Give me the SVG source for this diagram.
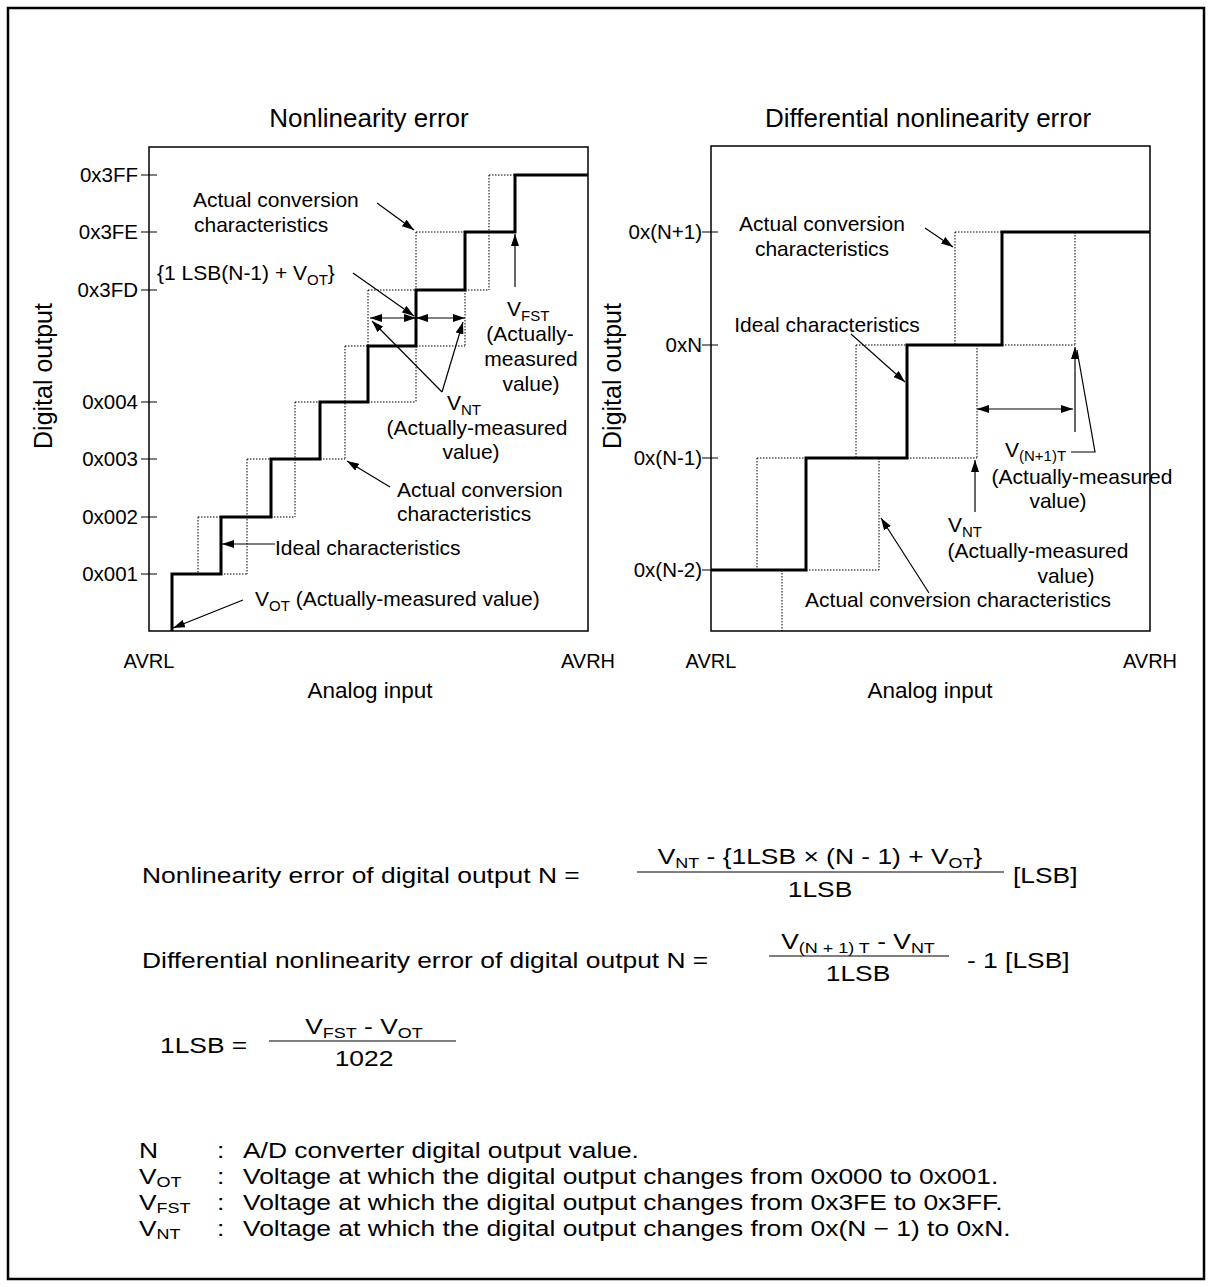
<svg xmlns="http://www.w3.org/2000/svg" width="1212" height="1287" viewBox="0 0 1212 1287">
<style>
text{font-family:"Liberation Sans",Arial,sans-serif;fill:#000}
.lb{font-size:21px}
.tk{font-size:20.5px}
.av{font-size:20px}
.ti{font-size:26px}
.ax{font-size:22.5px}
.ay{font-size:25px}
.fm{font-size:22px}
.s{font-size:15px}
.fs{font-size:15px}
.thick{stroke:#000;stroke-width:3;fill:none}
.dot{stroke:#000;stroke-width:1;stroke-dasharray:1.5 1.5;fill:none}
.frame{stroke:#000;stroke-width:1.5;fill:none}
.ln{stroke:#000;stroke-width:1.2;fill:none}
.ar{stroke:#000;stroke-width:1.2;fill:none;marker-end:url(#ah)}
.da{stroke:#000;stroke-width:1.2;fill:none;marker-start:url(#ah);marker-end:url(#ah)}
</style>
<defs>
<marker id="ah" viewBox="0 0 12 8" refX="12" refY="4" markerWidth="12" markerHeight="8" orient="auto-start-reverse" markerUnits="userSpaceOnUse"><path d="M0,0 L12,4 L0,8 z" fill="#000"/></marker>
</defs>
<rect x="8" y="8" width="1196" height="1271" fill="none" stroke="#000" stroke-width="2.5"/>

<g id="chart-left">
<text class="ti" x="369" y="127" text-anchor="middle">Nonlinearity error</text>
<rect class="frame" x="149" y="147" width="439" height="484"/>
<path class="ln" d="M141,175H157M141,232H157M141,290H157M141,402H157M141,459H157M141,517H157M141,574H157"/>
<g class="tk" text-anchor="end">
<text x="138" y="182">0x3FF</text>
<text x="138" y="239">0x3FE</text>
<text x="138" y="297">0x3FD</text>
<text x="138" y="409">0x004</text>
<text x="138" y="466">0x003</text>
<text x="138" y="524">0x002</text>
<text x="138" y="581">0x001</text>
</g>
<path class="dot" d="M198,517V574M247,459V574M295,402V517M345,346V459M368,290V346M416,232V290M416,346V402M465,290V346M489,175V290M221,574H247M198,517H221M271,517H295M247,459H271M320,459H345M295,402H320M368,402H416M345,346H368M416,346H465M368,290H416M465,290H489M416,232H465M489,175H515"/>
<path class="thick" d="M172,631V574H221V517H271V459H320V402H368V346H416V290H465V232H515V175H588"/>
<text class="ay" x="44" y="376" text-anchor="middle" transform="rotate(-90 44 376)" dy="8">Digital output</text>
<text class="av" x="149" y="668" text-anchor="middle">AVRL</text>
<text class="av" x="588" y="668" text-anchor="middle">AVRH</text>
<text class="ax" x="370" y="698" text-anchor="middle">Analog input</text>
</g>

<g id="chart-right">
<text class="ti" x="928" y="127" text-anchor="middle">Differential nonlinearity error</text>
<rect class="frame" x="711" y="146" width="439" height="485"/>
<path class="ln" d="M702,232H718M702,345H718M702,458H718M702,570H711"/>
<g class="tk" text-anchor="end">
<text x="702" y="239">0x(N+1)</text>
<text x="702" y="352">0xN</text>
<text x="702" y="465">0x(N-1)</text>
<text x="702" y="577">0x(N-2)</text>
</g>
<path class="dot" d="M955,232H1002M955,232V345M856,345H907M1002,345H1075M1075,232V345M856,345V458M977,345V458M757,458H806M907,458H977M757,458V570M879,458V570M806,570H879M782,570V631"/>
<path class="thick" d="M711,570H806V458H907V345H1002V232H1150"/>
<text class="ay" x="613" y="376" text-anchor="middle" transform="rotate(-90 613 376)" dy="8">Digital output</text>
<text class="av" x="711" y="668" text-anchor="middle">AVRL</text>
<text class="av" x="1150" y="668" text-anchor="middle">AVRH</text>
<text class="ax" x="930" y="698" text-anchor="middle">Analog input</text>
</g>

<g id="connectors">
<path class="ar" d="M377,203L414,230"/>
<path class="ar" d="M353,273L414,316"/>
<path class="da" d="M370,318H416"/>
<path class="da" d="M416,318H465"/>
<path class="ar" d="M515,287V234"/>
<path class="ar" d="M442,392L372,321"/>
<path class="ar" d="M442,392L463,322"/>
<path class="ar" d="M390,487L347,461"/>
<path class="ar" d="M275,544H222"/>
<path class="ar" d="M243,600L173,628"/>
<path class="ar" d="M925,228L953,247"/>
<path class="ar" d="M851,334L905,382"/>
<path class="da" d="M977,409H1073"/>
<path class="ar" d="M1075,432V347"/>
<path class="ln" d="M1071,452H1095L1077,350"/>
<path class="ar" d="M975,512V460"/>
<path class="ar" d="M929,593L881,518"/>
</g>

<g id="labels-left" class="lb">
<text x="193" y="207">Actual conversion</text>
<text x="194" y="232">characteristics</text>
<text x="157" y="280">{1 LSB(N-1) + V<tspan class="s" dy="5">OT</tspan><tspan dy="-5">}</tspan></text>
<text x="507" y="316">V<tspan class="s" dy="5">FST</tspan></text>
<text x="530" y="341" text-anchor="middle">(Actually-</text>
<text x="531" y="366" text-anchor="middle">measured</text>
<text x="531" y="391" text-anchor="middle">value)</text>
<text x="447" y="410">V<tspan class="s" dy="5">NT</tspan></text>
<text x="477" y="435" text-anchor="middle">(Actually-measured</text>
<text x="471" y="459" text-anchor="middle">value)</text>
<text x="397" y="497">Actual conversion</text>
<text x="397" y="521">characteristics</text>
<text x="275" y="555">Ideal characteristics</text>
<text x="255" y="606">V<tspan class="s" dy="5">OT</tspan><tspan dy="-5"> (Actually-measured value)</tspan></text>
</g>

<g id="labels-right" class="lb">
<text x="822" y="231" text-anchor="middle">Actual conversion</text>
<text x="822" y="256" text-anchor="middle">characteristics</text>
<text x="827" y="332" text-anchor="middle">Ideal characteristics</text>
<text x="1005" y="457">V<tspan class="s" dy="4">(N+1)T</tspan></text>
<text x="1082" y="484" text-anchor="middle">(Actually-measured</text>
<text x="1058" y="508" text-anchor="middle">value)</text>
<text x="948" y="532">V<tspan class="s" dy="5">NT</tspan></text>
<text x="1038" y="558" text-anchor="middle">(Actually-measured</text>
<text x="1066" y="583" text-anchor="middle">value)</text>
<text x="958" y="607" text-anchor="middle">Actual conversion characteristics</text>
</g>

<g id="formulas" class="fm">
<text transform="matrix(1.2 0 0 1 142 883)">Nonlinearity error of digital output N =</text>
<text transform="matrix(1.2 0 0 1 820 864)" text-anchor="middle">V<tspan class="fs" dy="4">NT</tspan><tspan dy="-4"> - {1LSB × (N - 1) + V</tspan><tspan class="fs" dy="4">OT</tspan><tspan dy="-4">}</tspan></text>
<path class="ln" d="M637,872H1004"/>
<text transform="matrix(1.2 0 0 1 820 897)" text-anchor="middle">1LSB</text>
<text transform="matrix(1.2 0 0 1 1013 883)">[LSB]</text>

<text transform="matrix(1.2 0 0 1 142 968)">Differential nonlinearity error of digital output N =</text>
<text transform="matrix(1.2 0 0 1 858 949)" text-anchor="middle">V<tspan class="fs" dy="4">(N + 1) T</tspan><tspan dy="-4"> - V</tspan><tspan class="fs" dy="4">NT</tspan></text>
<path class="ln" d="M769,956H949"/>
<text transform="matrix(1.2 0 0 1 858 981)" text-anchor="middle">1LSB</text>
<text transform="matrix(1.2 0 0 1 967 968)">- 1 [LSB]</text>

<text transform="matrix(1.2 0 0 1 160 1053)">1LSB =</text>
<text transform="matrix(1.2 0 0 1 364 1034)" text-anchor="middle">V<tspan class="fs" dy="4">FST</tspan><tspan dy="-4"> - V</tspan><tspan class="fs" dy="4">OT</tspan></text>
<path class="ln" d="M269,1041H456"/>
<text transform="matrix(1.2 0 0 1 364 1066)" text-anchor="middle">1022</text>

<text transform="matrix(1.2 0 0 1 139 1158)">N</text>
<text transform="matrix(1.2 0 0 1 217 1158)">:</text>
<text transform="matrix(1.2 0 0 1 243 1158)">A/D converter digital output value.</text>
<text transform="matrix(1.2 0 0 1 139 1184)">V<tspan class="fs" dy="3">OT</tspan></text>
<text transform="matrix(1.2 0 0 1 217 1184)">:</text>
<text transform="matrix(1.2 0 0 1 243 1184)">Voltage at which the digital output changes from 0x000 to 0x001.</text>
<text transform="matrix(1.2 0 0 1 139 1210)">V<tspan class="fs" dy="3">FST</tspan></text>
<text transform="matrix(1.2 0 0 1 217 1210)">:</text>
<text transform="matrix(1.2 0 0 1 243 1210)">Voltage at which the digital output changes from 0x3FE to 0x3FF.</text>
<text transform="matrix(1.2 0 0 1 139 1236)">V<tspan class="fs" dy="3">NT</tspan></text>
<text transform="matrix(1.2 0 0 1 217 1236)">:</text>
<text transform="matrix(1.2 0 0 1 243 1236)">Voltage at which the digital output changes from 0x(N − 1) to 0xN.</text>
</g>
</svg>
